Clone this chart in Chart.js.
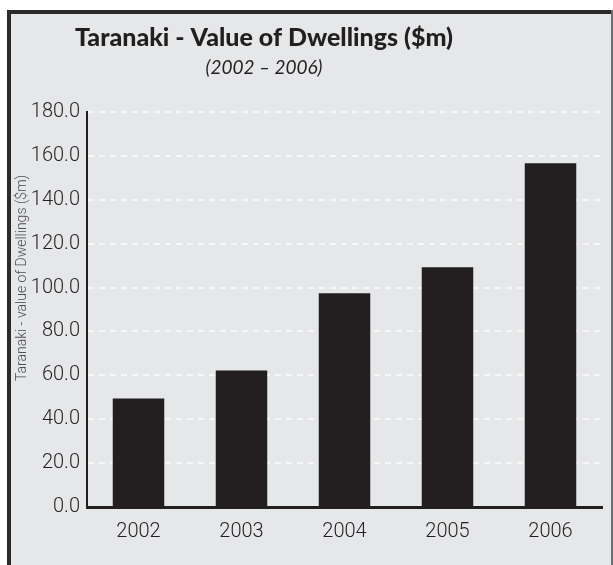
<!DOCTYPE html>
<html>
<head>
<meta charset="utf-8">
<title>Taranaki - Value of Dwellings</title>
<script src="https://cdn.jsdelivr.net/npm/chart.js@4/dist/chart.umd.min.js"></script>
<style>
  html, body { margin: 0; padding: 0; background: #ffffff; }
  #wrap { width: 613px; height: 565px; position: relative; }
</style>
</head>
<body>
<div id="wrap"><canvas id="myChart" width="613" height="565"></canvas></div>
<script>
// Data
const years = ['2002', '2003', '2004', '2005', '2006'];
const dwellingValues = [49.5, 62.2, 97.4, 109.2, 156.6];
const yTicks = [0, 20, 40, 60, 80, 100, 120, 140, 160, 180];

const titleText = 'Taranaki - Value of Dwellings ($m)';
const subtitleText = '(2002 \u2013 2006)';
const yAxisTitle = 'Taranaki - value of Dwellings ($m)';

const tickFont = "Roboto, 'Liberation Sans', sans-serif";
const barColor = '#231f20';

// Frame, panel background and the headings
const framePlugin = {
  id: 'frame',
  beforeDraw(chart) {
    const ctx = chart.ctx;
    ctx.save();
    ctx.fillStyle = '#ffffff';
    ctx.fillRect(0, 0, chart.width, chart.height);
    ctx.fillStyle = '#e6e7e9';
    ctx.fillRect(9, 12, 603, chart.height - 12);
    // left and top border
    ctx.fillStyle = '#2d2a2b';
    ctx.fillRect(7, 10, 4, chart.height - 10);
    ctx.fillRect(7, 10, 606, 4);
    // right border
    ctx.fillStyle = '#6d6e70';
    ctx.fillRect(611, 10, 2, chart.height - 10);
    ctx.restore();
  },
  afterDraw(chart) {
    const ctx = chart.ctx;
    ctx.save();
    ctx.textAlign = 'center';
    ctx.textBaseline = 'alphabetic';
    ctx.fillStyle = '#231f20';
    ctx.font = "900 25px Lato, 'Open Sans', sans-serif";
    ctx.fillText(titleText, 264, 46);
    ctx.font = "italic 19px Lato, 'Open Sans', sans-serif";
    ctx.fillText(subtitleText, 264, 74);

    ctx.translate(22, 278);
    ctx.rotate(-Math.PI / 2);
    ctx.textBaseline = 'middle';
    ctx.fillStyle = '#4d4d4f';
    ctx.font = "300 14px Roboto, 'Liberation Sans', sans-serif";
    ctx.fillText(yAxisTitle, 0, 0);
    ctx.restore();
  }
};

document.addEventListener('DOMContentLoaded', () => {
  const canvas = document.getElementById('myChart');

  new Chart(canvas, {
    type: 'bar',
    data: {
      labels: years,
      datasets: [{
        label: 'Value of Dwellings ($m)',
        data: dwellingValues,
        backgroundColor: barColor,
        borderWidth: 0,
        barPercentage: 0.5,
        categoryPercentage: 1.0
      }]
    },
    options: {
      responsive: false,
      animation: false,
      layout: {
        padding: { top: 112, right: 11, bottom: 0, left: 0 }
      },
      plugins: {
        legend: { display: false },
        title: { display: false },
        tooltip: { enabled: false }
      },
      scales: {
        x: {
          afterFit(scale) { scale.height = 58; },
          grid: { display: false },
          border: { display: true, color: barColor, width: 3 },
          ticks: {
            color: '#231f20',
            padding: 5,
            font: { family: tickFont, size: 20, weight: 300 }
          }
        },
        y: {
          min: 0,
          max: 180,
          afterFit(scale) { scale.width = 87; },
          afterBuildTicks(scale) {
            scale.ticks = yTicks.map(v => ({ value: v }));
          },
          grid: {
            color: '#f7f7f7',
            lineWidth: 2,
            drawTicks: false
          },
          border: { display: true, color: barColor, width: 2, dash: [6, 5] },
          ticks: {
            color: '#231f20',
            padding: 7,
            font: { family: tickFont, size: 20, weight: 300 },
            callback: v => Number(v).toFixed(1)
          }
        }
      }
    },
    plugins: [framePlugin]
  });
});
</script>
</body>
</html>
